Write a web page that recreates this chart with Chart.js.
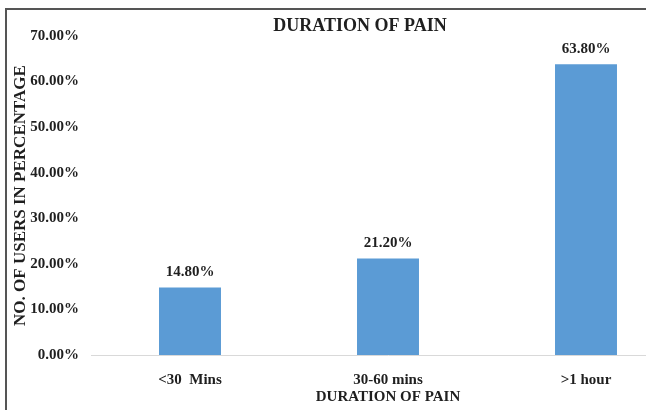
<!DOCTYPE html>
<html>
<head>
<meta charset="utf-8">
<script src="https://cdn.jsdelivr.net/npm/chart.js@4.4.1/dist/chart.umd.min.js"></script>
<style>
  html, body { margin: 0; padding: 0; background: #fff; overflow: hidden; width: 646px; height: 410px; }
  #frame { position: absolute; left: 5px; top: 8px; width: 700px; height: 402px;
           border-top: 2px solid #555; border-left: 2px solid #555; }
  #frame canvas { display: block; }
</style>
</head>
<body>
<div id="frame"><canvas id="c" width="700" height="400"></canvas></div>
<script>
const categories = ['<30  Mins', '30-60 mins', '>1 hour'];
const percentages = [14.8, 21.2, 63.8];
const chartTitle = 'DURATION OF PAIN';
const xTitle = 'DURATION OF PAIN';
const yTitle = 'NO. OF USERS IN PERCENTAGE';

const SERIF = "'Liberation Serif', 'Times New Roman', serif";
const INK = '#1f1f1f';
const fmt = v => Number(v).toFixed(2) + '%';

// Main heading and the value printed above each bar
const labelsPlugin = {
  id: 'labels',
  afterDatasetsDraw(chart) {
    const ctx = chart.ctx;
    ctx.save();
    ctx.fillStyle = INK;
    ctx.textAlign = 'center';
    ctx.font = 'bold 18px ' + SERIF;
    ctx.textBaseline = 'middle';
    ctx.fillText(chartTitle, 353, 16);

    ctx.font = 'bold 15px ' + SERIF;
    ctx.textBaseline = 'bottom';
    chart.getDatasetMeta(0).data.forEach((bar, i) => {
      ctx.fillText(fmt(percentages[i]), bar.x, bar.y - 8);
    });
    ctx.restore();
  }
};

new Chart(document.getElementById('c'), {
  type: 'bar',
  data: {
    labels: categories,
    datasets: [{
      data: percentages,
      backgroundColor: '#5B9BD5',
      borderWidth: 0,
      barPercentage: 0.313,
      categoryPercentage: 1
    }]
  },
  options: {
    responsive: false,
    animation: false,
    layout: { padding: { top: 26, right: 22, bottom: 0, left: 0 } },
    plugins: { legend: { display: false }, tooltip: { enabled: false } },
    scales: {
      x: {
        afterFit: s => { s.height = 55; },
        grid: { display: false },
        border: { display: true, color: '#d9d9d9', width: 1 },
        ticks: { color: INK, padding: 8, font: { family: SERIF, size: 15, weight: 'bold' } },
        title: { display: true, text: xTitle, color: INK, padding: { top: 0, bottom: 4 },
                 font: { family: SERIF, size: 15, weight: 'bold' } }
      },
      y: {
        min: 0, max: 70,
        afterFit: s => { s.width = 84; },
        grid: { display: false },
        border: { display: false },
        ticks: { stepSize: 10, color: INK, padding: 4, callback: v => fmt(v),
                 font: { family: SERIF, size: 15, weight: 'bold' } },
        title: { display: true, text: yTitle, color: INK, padding: { top: 3, bottom: 0 },
                 font: { family: SERIF, size: 17, weight: 'bold' } }
      }
    }
  },
  plugins: [labelsPlugin]
});
</script>
</body>
</html>
